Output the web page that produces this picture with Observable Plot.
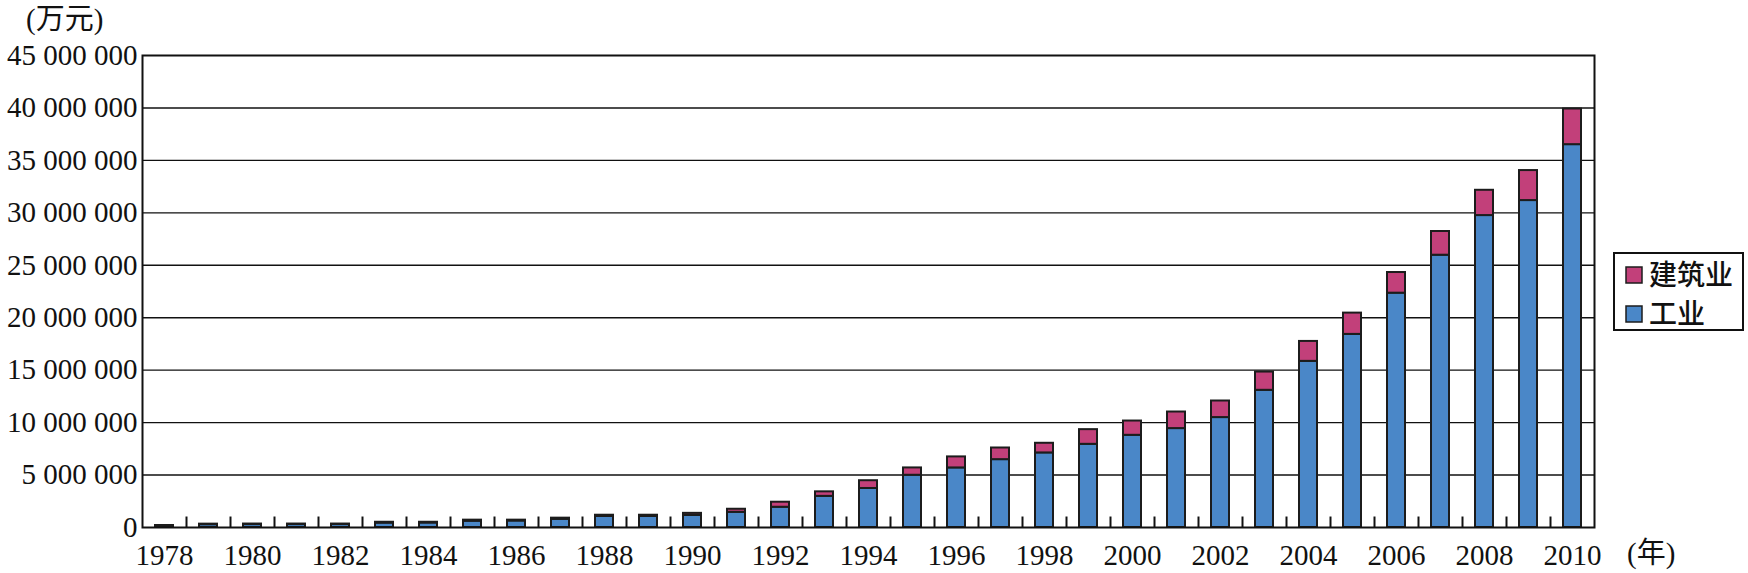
<!DOCTYPE html>
<html><head><meta charset="utf-8">
<script src="https://cdn.jsdelivr.net/npm/d3@7"></script>
<script src="https://cdn.jsdelivr.net/npm/@observablehq/plot@0.6"></script>
<style>html,body{margin:0;padding:0;background:#fff} svg{display:block}</style>
</head><body><div id="chart"></div>
<script>
const years = [1978,1979,1980,1981,1982,1983,1984,1985,1986,1987,1988,1989,1990,1991,1992,1993,1994,1995,1996,1997,1998,1999,2000,2001,2002,2003,2004,2005,2006,2007,2008,2009,2010];
// 工业 (万元)
const industry = [160000,270000,280000,280000,280000,420000,430000,600000,620000,780000,1050000,1050000,1150000,1450000,1930000,2970000,3720000,4980000,5680000,6470000,7110000,7930000,8790000,9430000,10480000,13080000,15840000,18410000,22340000,25960000,29740000,31170000,36500000];
// 建筑业 (万元)
const construction = [30000,50000,50000,50000,50000,80000,70000,100000,80000,110000,120000,120000,200000,290000,480000,430000,740000,700000,1050000,1110000,920000,1400000,1360000,1580000,1580000,1740000,1900000,2030000,1970000,2260000,2410000,2860000,3400000];
const seriesNames = ["工业","建筑业"];
const seriesColors = ["#4a87c8","#c2407a"];
const legendOrder = ["建筑业","工业"];
const yTicks = [0,5000000,10000000,15000000,20000000,25000000,30000000,35000000,40000000,45000000];
const xTickLabels = [1978,1980,1982,1984,1986,1988,1990,1992,1994,1996,1998,2000,2002,2004,2006,2008,2010];
const yUnit = "(万元)";
const xUnit = "(年)";

const data = years.flatMap((y,i)=>[
  {year:String(y), series:"工业", value:industry[i]},
  {year:String(y), series:"建筑业", value:construction[i]}
]);

const serif = "'Liberation Serif','Times New Roman','Noto Sans CJK SC',serif";
const cjk = "'Liberation Serif','Noto Sans CJK SC',sans-serif";

const chart = Plot.plot({
  width:1748, height:573,
  marginLeft:142, marginRight:154, marginTop:55, marginBottom:46,
  style:{fontFamily:serif, fontSize:"29px", color:"#111", background:"#fff"},
  x:{type:"band", domain:years.map(String), paddingInner:0.59, paddingOuter:0.295, label:null},
  y:{domain:[0,45000000], label:null},
  color:{domain:seriesNames, range:seriesColors},
  marks:[
    Plot.ruleY(yTicks.filter(v=>v>0 && v<45000000), {stroke:"#111", strokeWidth:1.4}),
    Plot.barY(data, {x:"year", y:"value", fill:"series", order:seriesNames, stroke:"#1c1c1c", strokeWidth:2}),
    Plot.ruleX(years.slice(0,-1).map(String), {x:d=>d, dx:22, y1:0, y2:1000000, stroke:"#111", strokeWidth:2}),
    Plot.frame({stroke:"#111", strokeWidth:2}),
    Plot.axisY({ticks:yTicks, tickSize:0, tickPadding:5, tickFormat:d=>d3.format(",")(d).replace(/,/g," "), label:null}),
    Plot.axisX({ticks:xTickLabels.map(String), tickSize:0, tickPadding:17, label:null})
  ]
});
document.getElementById("chart").appendChild(chart);

const svg = d3.select(chart);
// unit labels
svg.append("text").attr("x",26).attr("y",19).attr("dy","0.35em").attr("text-anchor","start")
  .attr("font-family",cjk).attr("font-size",29).attr("fill","#111").text(yUnit);
svg.append("text").attr("x",1627).attr("y",553).attr("dy","0.35em").attr("text-anchor","start")
  .attr("font-family",cjk).attr("font-size",29).attr("fill","#111").text(xUnit);

// legend
const lg = svg.append("g").attr("text-anchor","start");
lg.append("rect").attr("x",1614).attr("y",253).attr("width",129).attr("height",77)
  .attr("fill","#fff").attr("stroke","#111").attr("stroke-width",2);
legendOrder.forEach((name,i)=>{
  const cy = 275 + i*39;
  lg.append("rect").attr("x",1626).attr("y",cy-8).attr("width",16).attr("height",16)
    .attr("fill",seriesColors[seriesNames.indexOf(name)]).attr("stroke","#1c1c1c").attr("stroke-width",1.5);
  lg.append("text").attr("x",1649).attr("y",cy).attr("dy","0.36em").attr("text-anchor","start")
    .attr("font-family","'Noto Sans CJK SC',sans-serif").attr("font-weight",500)
    .attr("font-size",28).attr("fill","#111").text(name);
});
</script>
</body></html>
